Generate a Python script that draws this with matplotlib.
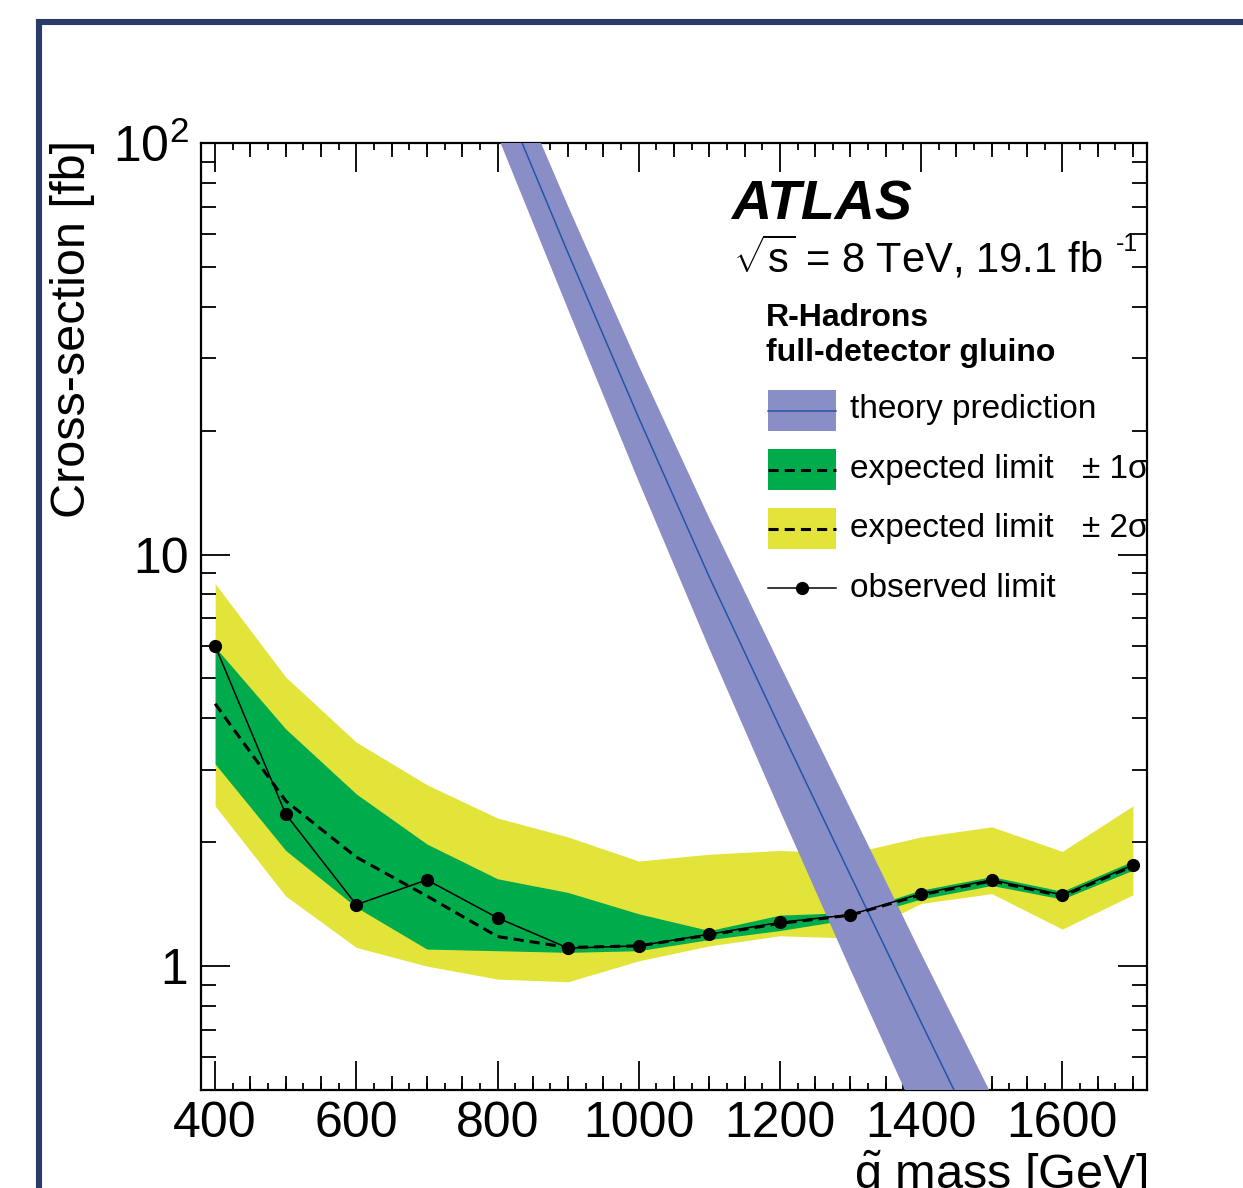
import numpy as np
import matplotlib
matplotlib.use('Agg')
import matplotlib.pyplot as plt
from matplotlib.lines import Line2D
from matplotlib.patches import Rectangle
from matplotlib.ticker import (FixedLocator, FixedFormatter, MultipleLocator,
                               LogLocator, NullFormatter, NullLocator)

plt.rcParams['font.family'] = ['Liberation Sans', 'DejaVu Sans']
plt.rcParams['mathtext.fontset'] = 'custom'
plt.rcParams['mathtext.rm'] = 'Liberation Sans'
plt.rcParams['mathtext.it'] = 'Liberation Sans:italic'
plt.rcParams['mathtext.bf'] = 'Liberation Sans:bold'

# gluino mass points [GeV] and limits [fb]
mass = [400, 500, 600, 700, 800, 900, 1000, 1100, 1200, 1300, 1400, 1500, 1600, 1700]
observed = [6.0, 2.34, 1.41, 1.62, 1.31, 1.106, 1.12, 1.196, 1.277, 1.333, 1.50, 1.62, 1.49, 1.76]
expected = [4.34, 2.52, 1.84, 1.48, 1.18, 1.11, 1.12, 1.19, 1.27, 1.33, 1.49, 1.61, 1.48, 1.75]
exp_1s_up = [5.96, 3.77, 2.62, 1.98, 1.63, 1.51, 1.34, 1.22, 1.33, 1.35, 1.53, 1.65, 1.52, 1.80]
exp_1s_dn = [3.10, 1.91, 1.39, 1.10, 1.09, 1.08, 1.09, 1.16, 1.22, 1.30, 1.455, 1.57, 1.455, 1.71]
exp_2s_up = [8.5, 5.04, 3.50, 2.76, 2.29, 2.06, 1.80, 1.87, 1.91, 1.88, 2.06, 2.18, 1.90, 2.45]
exp_2s_dn = [2.45, 1.48, 1.11, 1.00, 0.93, 0.916, 1.03, 1.12, 1.185, 1.17, 1.42, 1.50, 1.23, 1.49]

# theory prediction with its uncertainty band [fb]
mass_th = [800, 900, 1000, 1100, 1200, 1300, 1400, 1500]
theory = [139, 54, 21.5, 8.82, 3.80, 1.66, 0.730, 0.324]
theory_up = [176.5, 70.2, 28.8, 12.26, 5.40, 2.41, 1.073, 0.486]
theory_dn = [104.3, 39.4, 15.05, 5.91, 2.39, 0.98, 0.409, 0.168]

yellow = '#e2e43a'
green = '#00ab4c'
th_fill = '#8a8ec6'
th_line = '#2355a6'
navy = '#2c3a6b'

W, H = 1243, 1188
fig = plt.figure(figsize=(W / 100, H / 100), dpi=100)


def fx(px):
    return px / W


def fy(py):
    return 1 - py / H


ax = fig.add_axes([fx(201), fy(1090), fx(1147) - fx(201), fy(143) - fy(1090)])

# slide frame
fig.add_artist(Line2D([fx(38.5), fx(38.5)], [fy(19), fy(1200)], color=navy,
                      lw=4.4, solid_capstyle='butt'))
fig.add_artist(Line2D([fx(35.5), fx(1260)], [fy(22), fy(22)], color=navy,
                      lw=4.4, solid_capstyle='butt'))

ax.fill_between(mass, exp_2s_dn, exp_2s_up, color=yellow, lw=0, zorder=1)
ax.fill_between(mass, exp_1s_dn, exp_1s_up, color=green, lw=0, zorder=2)
ax.fill_between(mass_th, theory_dn, theory_up, color=th_fill, lw=0, zorder=3)
ax.plot(mass_th, theory, color=th_line, lw=1.1, zorder=4)
ax.plot(mass, expected, color='k', ls=(0, (3.3, 2.0)), lw=2.2, zorder=5)
ax.plot(mass, observed, color='k', lw=1.1, marker='o', ms=8.5, zorder=6)

ax.set_yscale('log')
ax.set_xlim(380, 1720)
ax.set_ylim(0.5, 100)

for s in ax.spines.values():
    s.set_linewidth(1.6)

ax.xaxis.set_major_locator(MultipleLocator(200))
ax.xaxis.set_minor_locator(MultipleLocator(25))
ax.yaxis.set_major_locator(FixedLocator([1, 10, 100]))
ax.yaxis.set_major_formatter(FixedFormatter(['1', '10', '$10^{2}$']))
ax.yaxis.set_minor_locator(LogLocator(base=10, subs=np.arange(2, 10)))
ax.yaxis.set_minor_formatter(NullFormatter())

ax.tick_params(which='both', direction='in', top=True, right=True, width=1.3,
               labelsize=36)
ax.tick_params(axis='x', which='major', length=21, pad=8)
ax.tick_params(axis='x', which='minor', length=5)
ax.tick_params(axis='y', which='major', length=21, pad=9)
ax.tick_params(axis='y', which='minor', length=10.5)

# medium ticks every 50 GeV
mid_ticks = [m for m in np.arange(400, 1701, 50) if m % 200 != 0]
for side in ('bottom', 'top'):
    sec = ax.secondary_xaxis(side)
    sec.xaxis.set_major_locator(FixedLocator(mid_ticks))
    sec.xaxis.set_minor_locator(NullLocator())
    sec.tick_params(direction='in', length=10, width=1.3,
                    labelbottom=False, labeltop=False)
    for s in sec.spines.values():
        s.set_visible(False)

# axis titles
fig.text(fx(73), fy(140), 'Cross-section [fb]', rotation=90, ha='center',
         va='top', fontsize=35)
fig.text(fx(1147), fy(1189), r'$\tilde{\mathrm{g}}$ mass [GeV]', ha='right',
         va='baseline', fontsize=35)

# labels
fig.text(fx(731), fy(219), 'ATLAS', fontsize=40, weight='bold',
         style='italic', va='baseline')
fig.text(fx(733), fy(273), r'$\sqrt{\mathrm{s}}$ = 8 TeV, 19.1 fb', fontsize=30,
         va='baseline')
fig.text(fx(1116), fy(251), '-1', fontsize=18, va='baseline')
fig.text(fx(766), fy(326), 'R-Hadrons', fontsize=23, weight='bold',
         va='baseline')
fig.text(fx(766), fy(361), 'full-detector gluino', fontsize=23,
         weight='bold', va='baseline')

# legend, drawn by hand
def box(top, bottom, color):
    fig.add_artist(Rectangle((fx(768), fy(bottom)), fx(836) - fx(768),
                             (bottom - top) / H, transform=fig.transFigure,
                             color=color, lw=0))


def hline(y, **kw):
    fig.add_artist(Line2D([fx(768), fx(836)], [fy(y), fy(y)], **kw))


box(390, 431, th_fill)
hline(410.5, color=th_line, lw=1.1)
box(449, 490, green)
hline(469.5, color='k', ls=(0, (3.3, 2.0)), lw=2.2)
box(508, 549, yellow)
hline(528.5, color='k', ls=(0, (3.3, 2.0)), lw=2.2)
hline(588, color='k', lw=1.1)
fig.add_artist(Line2D([fx(802)], [fy(588)], color='k', marker='o', ms=8.5))

leg_fs = 24
fig.text(fx(850), fy(418), 'theory prediction', fontsize=leg_fs, va='baseline')
fig.text(fx(850), fy(478), 'expected limit', fontsize=leg_fs, va='baseline')
fig.text(fx(1082), fy(478), '\u00b1 1\u03c3', fontsize=leg_fs, va='baseline')
fig.text(fx(850), fy(537), 'expected limit', fontsize=leg_fs, va='baseline')
fig.text(fx(1082), fy(537), '\u00b1 2\u03c3', fontsize=leg_fs, va='baseline')
fig.text(fx(850), fy(597), 'observed limit', fontsize=leg_fs, va='baseline')

fig.savefig('out.png', dpi=100)
